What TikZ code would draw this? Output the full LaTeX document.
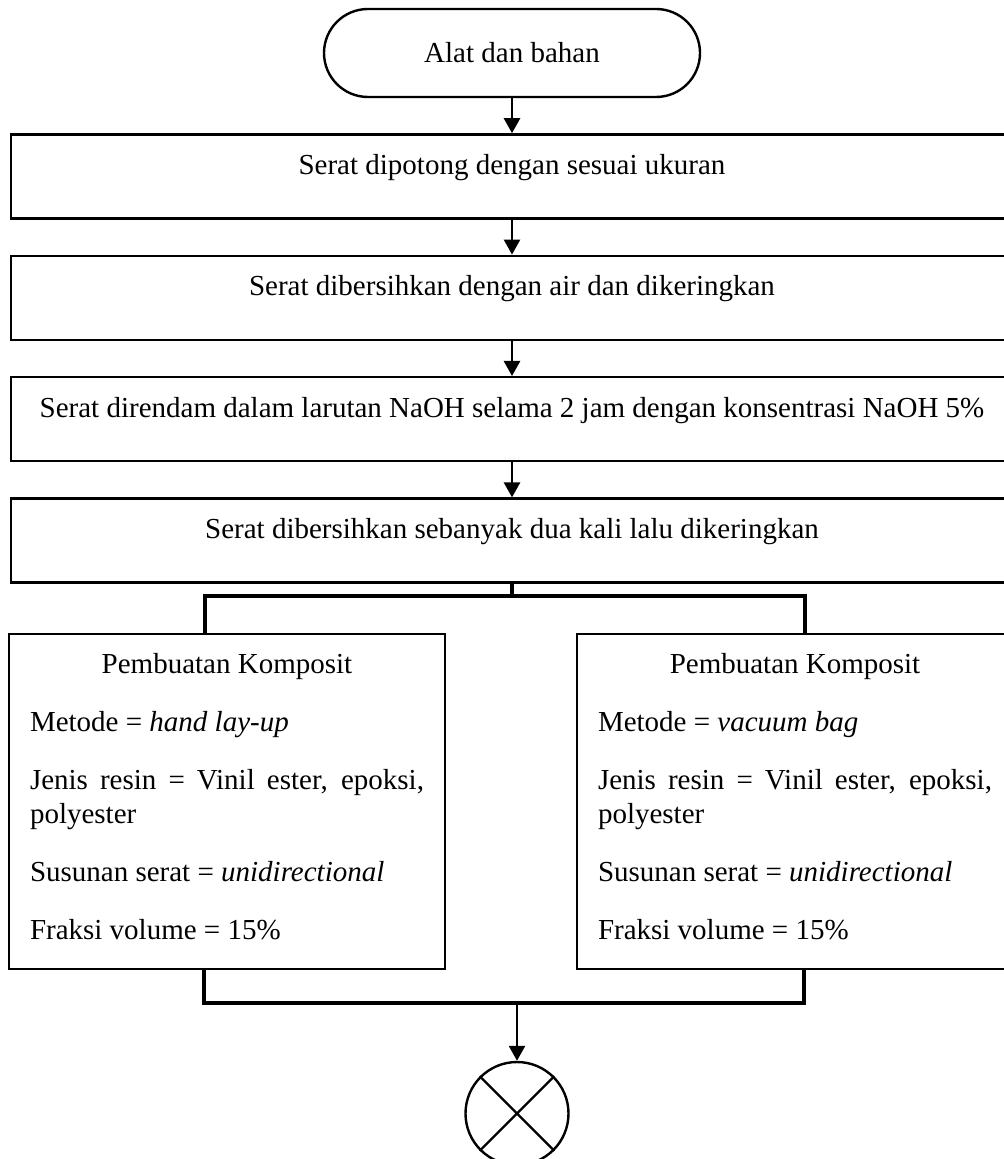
\documentclass[tikz,border=0pt]{standalone}
\usepackage{fontspec}
\setmainfont{Liberation Serif}
\usetikzlibrary{arrows.meta,positioning}

\begin{document}
\begin{tikzpicture}[x=0.5pt,y=-0.5pt,
  every node/.style={font=\fontsize{14.5pt}{17pt}\selectfont},
  node distance=17.5pt,
  terminal/.style={draw,line width=1.2pt,rounded corners=22pt,
                   minimum width=188pt,minimum height=44pt,inner sep=0pt},
  stepbox/.style={draw,line width=1.2pt,minimum width=501pt,inner sep=0pt,
                  text height=20pt,text depth=22pt},
  compbox/.style={draw,line width=1.2pt,anchor=north,text width=197pt,align=justify,
                  inner xsep=10.5pt,inner ysep=0pt,text height=19.5pt,text depth=148pt},
  connector/.style={draw,line width=1.2pt,circle,minimum size=51.5pt,inner sep=0pt},
  flow/.style={-{Triangle[length=7.5pt,width=8pt]},line width=1.3pt},
  joint/.style={line width=1.8pt}]

\clip (0,0) rectangle (1004,1159);

% --- 1. persiapan serat
\node[terminal] (mulai) at (512,53) {Alat dan bahan};
\node[stepbox,below=of mulai] (potong) {Serat dipotong dengan sesuai ukuran};
\node[stepbox,below=of potong] (cuci) {Serat dibersihkan dengan air dan dikeringkan};
\node[stepbox,below=of cuci] (rendam) {Serat direndam dalam larutan NaOH selama 2 jam dengan konsentrasi NaOH 5\%};
\node[stepbox,below=of rendam] (bilas) {Serat dibersihkan sebanyak dua kali lalu dikeringkan};
\foreach \a/\b in {mulai/potong,potong/cuci,cuci/rendam,rendam/bilas}
  \draw[flow] (\a) -- (\b);

% --- 2. pembuatan komposit
\node[compbox] (hand) at (227,633) {{\centering Pembuatan Komposit\par}\setlength{\parskip}{12pt}%
  Metode = \textit{hand lay-up}\par
  Jenis resin = Vinil ester, epoksi, polyester\par
  Susunan serat = \textit{unidirectional}\par
  Fraksi volume = 15\%};
\node[compbox] (vakum) at (795,633) {{\centering Pembuatan Komposit\par}\setlength{\parskip}{12pt}%
  Metode = \textit{vacuum bag}\par
  Jenis resin = Vinil ester, epoksi, polyester\par
  Susunan serat = \textit{unidirectional}\par
  Fraksi volume = 15\%};

\coordinate (pisahL) at (205,596);
\coordinate (pisahR) at (805,596);
\draw[joint] (bilas.south) -- (bilas.south |- pisahL);
\draw[joint] (hand.north -| pisahL) -- (pisahL) -- (pisahR) -- (vakum.north -| pisahR);

% --- 3. penghubung akhir
\coordinate (gabungL) at (204,1003);
\coordinate (gabungR) at (804,1003);
\draw[joint] (hand.south -| gabungL) -- (gabungL) -- (gabungR) -- (vakum.south -| gabungR);
\node[connector] (selesai) at (517,1113.5) {};
\draw[flow] (selesai.north |- gabungL) -- (selesai);
\draw[line width=1.2pt] (selesai.45) -- (selesai.225) (selesai.135) -- (selesai.-45);
\end{tikzpicture}
\end{document}
